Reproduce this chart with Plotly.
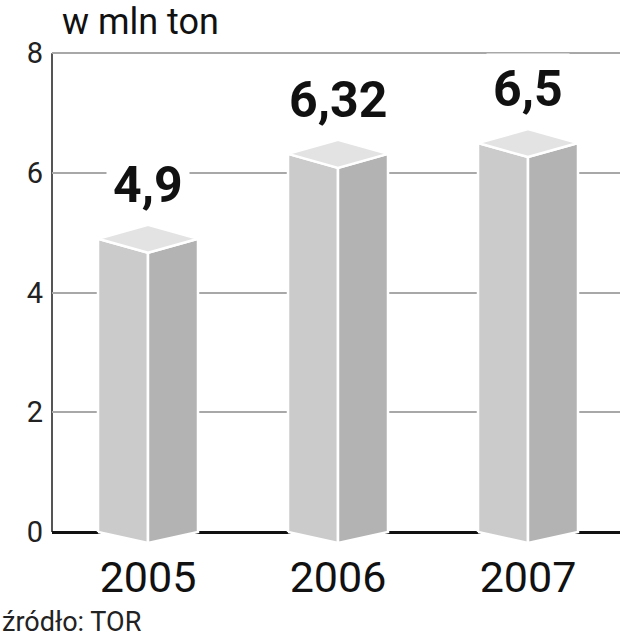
import plotly.graph_objects as go

# ---- data ----
years = ["2005", "2006", "2007"]
values = [4.9, 6.32, 6.5]
value_labels = ["4,9", "6,32", "6,5"]
y_ticks = [0, 2, 4, 6, 8]
unit_label = "w mln ton"
source_label = "źródło: TOR"

# ---- geometry (pixel-derived, in axis units) ----
PX_X = 190.0      # px per category
PX_Y = 59.83      # px per unit
half_w = 50 / PX_X
depth_top = 14 / PX_Y
depth_bot = 11 / PX_Y

x_range = [-96 / PX_X, -96 / PX_X + 568 / PX_X]
y_range = [-(552 - 532) / PX_Y, 8 + (53.3 - 40) / PX_Y]

LEFT = "#cbcbcb"
RIGHT = "#b3b3b3"
TOP = "#e3e3e3"

fig = go.Figure()

for i, v in enumerate(values):
    c = i
    faces = [
        ([c - half_w, c, c, c - half_w, c - half_w], [0, -depth_bot, v - depth_top, v, 0], LEFT),
        ([c, c + half_w, c + half_w, c, c], [-depth_bot, 0, v, v - depth_top, -depth_bot], RIGHT),
        ([c - half_w, c, c + half_w, c, c - half_w], [v, v - depth_top, v, v + depth_top, v], TOP),
    ]
    for xs, ys, col in faces:
        fig.add_trace(go.Scatter(
            x=xs, y=ys, mode="lines", fill="toself", fillcolor=col,
            line=dict(color="white", width=2.5), hoverinfo="skip", showlegend=False,
        ))
    fig.add_annotation(
        x=c, y=v, text=f"<b>{value_labels[i]}</b>", showarrow=False,
        yanchor="bottom", yshift=18, font=dict(family="Roboto", size=50, color="#111"),
        bgcolor="white", borderpad=6,
    )

# left axis line from 0 to 8
fig.add_shape(type="line", xref="paper", x0=0, x1=0, yref="y", y0=0, y1=8,
              line=dict(color="#555", width=2), layer="below")

fig.add_annotation(xref="paper", yref="paper", x=(60 - 52) / 568, y=1 + (40 - 22) / 512,
                   text=unit_label, showarrow=False, xanchor="left", yanchor="middle",
                   font=dict(family="Roboto", size=36, color="#111"))
fig.add_annotation(xref="paper", yref="paper", x=-52 / 568, y=-(622 - 552) / 512,
                   text=source_label, showarrow=False, xanchor="left", yanchor="middle",
                   font=dict(family="Roboto", size=27, color="#222"))

fig.update_layout(
    width=620, height=640,
    margin=dict(l=52, r=0, t=40, b=88),
    paper_bgcolor="white", plot_bgcolor="white",
    xaxis=dict(range=x_range, tickvals=[0, 1, 2], ticktext=years, showgrid=False,
               zeroline=False, showline=False, ticks="", ticklabelstandoff=-4, automargin=False,
               tickfont=dict(family="Roboto", size=43, color="#111"), fixedrange=True),
    yaxis=dict(range=y_range, tickvals=y_ticks, ticktext=[str(t) for t in y_ticks],
               showgrid=True, gridcolor="#a8a8a8", gridwidth=2,
               zeroline=True, zerolinecolor="#111", zerolinewidth=3,
               showline=False, ticks="", ticklabelstandoff=8, automargin=False,
               tickfont=dict(family="Roboto", size=29, color="#222"), fixedrange=True),
    showlegend=False,
)

fig.write_html("out.html", config={"displayModeBar": False},
               post_script="document.body.style.margin='0';document.body.style.overflow='hidden';")
